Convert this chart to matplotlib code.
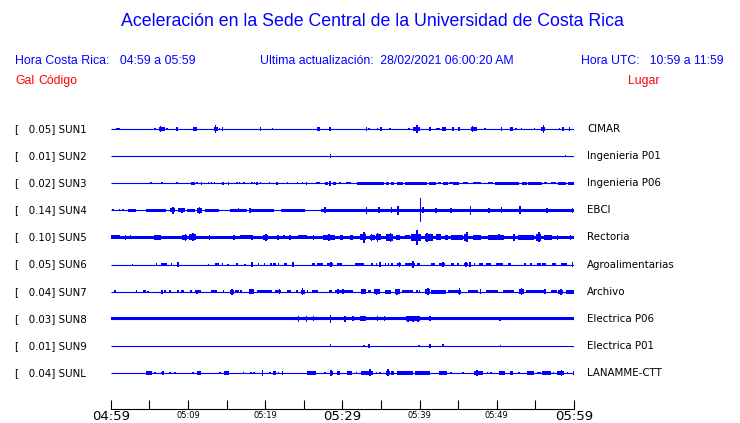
import matplotlib
matplotlib.use('Agg')
import matplotlib.pyplot as plt

# station codes, peak acceleration (Gal) and place names
codes = ['SUN1', 'SUN2', 'SUN3', 'SUN4', 'SUN5', 'SUN6', 'SUN7', 'SUN8', 'SUN9', 'SUNL']
peaks = [0.05, 0.01, 0.02, 0.14, 0.10, 0.05, 0.04, 0.03, 0.01, 0.04]
places = ['CIMAR', 'Ingenieria P01', 'Ingenieria P06', 'EBCI', 'Rectoria',
          'Agroalimentarias', 'Archivo', 'Electrica P06', 'Electrica P01', 'LANAMME-CTT']

# time axis: minutes after 04:59 (local) -> tick labels
tick_minutes = [0, 10, 20, 30, 40, 50, 60]
tick_labels = ['04:59', '05:09', '05:19', '05:29', '05:39', '05:49', '05:59']

# signal bursts: (start minute, end minute, half amplitude)
sun1 = [(0.65, 0.95, 3), (1.08, 1.08, 3), (5.72, 5.72, 3), (6.24, 6.97, 4), (6.45, 6.45, 9),
        (7.31, 7.31, 2), (8.47, 8.77, 4), (10.75, 10.75, 4), (11.01, 11.01, 4), (13.33, 13.85, 5),
        (13.55, 13.55, 12), (14.11, 14.11, 3), (14.49, 14.49, 4), (19.40, 19.40, 4), (20.95, 20.95, 2),
        (26.71, 27.05, 4), (26.80, 26.80, 6), (28.39, 28.39, 6), (33.12, 33.12, 4), (33.42, 33.42, 3),
        (34.54, 34.54, 3), (35.01, 35.01, 4), (36.17, 36.17, 2), (38.62, 38.62, 2), (39.14, 40.00, 5),
        (39.70, 39.70, 10), (41.33, 41.33, 4), (42.28, 42.28, 3), (42.49, 42.49, 3), (43.05, 43.05, 4),
        (43.27, 43.27, 4), (44.30, 44.30, 4), (45.08, 45.08, 4), (46.67, 47.40, 5), (46.88, 46.88, 8),
        (48.47, 48.47, 3), (50.62, 50.62, 4), (51.74, 52.09, 4), (51.91, 51.91, 6), (52.47, 52.47, 3),
        (53.20, 53.20, 2), (54.88, 54.88, 2), (55.78, 56.30, 5), (56.04, 56.04, 12), (58.11, 58.11, 3),
        (58.54, 58.54, 4), (59.44, 59.44, 4)]
sun2 = [(28.47, 28.47, 4), (58.88, 58.88, 3)]
sun3 = [(5.25, 5.25, 3), (6.45, 6.80, 3), (8.60, 8.60, 2), (10.45, 10.88, 4), (11.18, 11.18, 3),
        (11.74, 11.74, 4), (12.69, 12.69, 3), (13.03, 13.03, 3), (13.46, 13.46, 3), (14.41, 14.67, 4),
        (15.14, 15.35, 4), (16.34, 16.34, 3), (16.69, 16.69, 3), (17.25, 17.25, 3), (18.32, 18.32, 3),
        (18.62, 18.62, 3), (18.92, 18.92, 4), (19.40, 19.40, 3), (20.56, 20.56, 3), (21.38, 21.63, 4),
        (22.88, 22.88, 3), (24.17, 24.17, 3), (24.82, 24.82, 3), (25.38, 25.38, 4), (26.54, 27.10, 3),
        (27.74, 28.09, 4), (28.43, 28.43, 7), (28.73, 29.16, 4), (29.68, 29.68, 3), (30.45, 31.18, 3),
        (31.91, 32.39, 4), (32.47, 35.40, 4), (35.70, 36.00, 4), (36.26, 36.65, 4), (37.12, 37.85, 4),
        (38.06, 40.90, 4), (41.20, 42.15, 4), (42.37, 42.80, 3), (43.01, 43.66, 4), (43.87, 44.30, 3),
        (44.39, 45.16, 4), (45.59, 46.32, 3), (46.88, 47.96, 3), (48.82, 49.46, 3), (49.76, 52.90, 4),
        (53.25, 53.89, 4), (54.06, 55.91, 4), (56.13, 56.56, 3), (56.99, 57.63, 3), (57.94, 58.92, 4),
        (59.23, 60.00, 4)]
sun4 = [(0.22, 0.43, 2), (1.16, 1.16, 2), (1.63, 1.63, 2), (2.28, 3.23, 3), (4.52, 7.10, 3),
        (7.66, 8.39, 5), (8.73, 9.59, 5), (9.89, 10.97, 3), (11.18, 11.83, 6), (12.17, 14.06, 3),
        (15.48, 17.63, 3), (17.85, 21.20, 4), (22.06, 25.16, 4), (27.23, 60.00, 4),
        (8.09, 8.09, 10), (9.25, 9.25, 7), (11.48, 11.48, 10), (16.56, 16.56, 5), (18.06, 18.06, 6),
        (27.74, 27.74, 8), (33.12, 33.12, 10), (34.75, 34.75, 8), (36.34, 36.34, 8), (37.20, 37.20, 12),
        (40.13, 40.13, 35), (40.43, 40.43, 8), (42.15, 42.15, 6), (44.09, 44.09, 6), (46.62, 46.62, 12),
        (49.03, 49.03, 6), (50.62, 50.62, 8), (52.99, 52.99, 11), (56.47, 56.47, 6), (59.78, 59.78, 6)]
sun5 = [(0.00, 1.20, 5), (1.20, 60.00, 4.5), (1.94, 1.94, 6), (2.58, 2.58, 5), (5.59, 6.45, 6),
        (9.25, 9.89, 7), (9.68, 9.68, 9), (10.19, 11.05, 8), (10.62, 10.62, 11), (12.77, 12.77, 6),
        (15.78, 16.13, 6), (16.77, 18.49, 5), (18.28, 18.28, 7), (19.78, 20.43, 7), (20.09, 20.09, 9),
        (21.63, 21.63, 6), (22.45, 22.45, 5), (23.23, 23.23, 6), (24.30, 25.38, 5), (26.24, 26.24, 7),
        (27.53, 29.03, 7), (28.26, 28.26, 10), (29.68, 30.11, 7), (30.97, 31.40, 6), (32.26, 33.12, 8),
        (32.82, 32.82, 15), (33.55, 34.19, 7), (33.76, 33.76, 9), (34.41, 35.05, 8), (34.54, 34.54, 12),
        (35.70, 36.56, 9), (36.26, 36.26, 12), (36.99, 37.42, 6), (38.06, 38.71, 5), (38.92, 40.22, 10),
        (39.66, 39.66, 22), (40.65, 41.72, 9), (40.99, 40.99, 12), (42.15, 42.80, 8), (43.23, 43.66, 6),
        (44.09, 45.59, 6), (45.81, 46.32, 10), (46.11, 46.11, 14), (46.88, 47.96, 6), (48.82, 50.97, 6),
        (50.32, 50.32, 8), (52.26, 52.26, 9), (52.69, 54.84, 6), (55.05, 55.70, 9), (55.48, 55.48, 14),
        (56.13, 57.20, 6), (57.85, 57.85, 6), (59.57, 59.57, 6)]
sun6 = [(2.80, 2.80, 2), (5.81, 6.02, 3), (6.45, 7.31, 4), (7.01, 7.01, 5), (7.87, 7.87, 4),
        (8.73, 8.73, 7), (12.69, 12.69, 2), (13.55, 13.98, 3), (14.49, 14.49, 3), (15.18, 15.18, 2),
        (16.34, 16.34, 3), (17.42, 17.42, 2), (18.28, 18.28, 7), (19.14, 19.14, 3), (19.91, 19.91, 3),
        (20.73, 20.73, 3), (21.08, 21.38, 4), (21.72, 21.72, 3), (22.45, 22.88, 4), (23.44, 23.78, 6),
        (23.66, 23.66, 8), (26.11, 26.45, 3), (26.67, 27.53, 4), (27.96, 28.82, 4), (28.52, 28.52, 6),
        (29.33, 29.89, 4), (31.61, 32.82, 4), (33.76, 34.02, 4), (34.41, 34.41, 3), (34.84, 34.84, 6),
        (35.57, 35.57, 3), (36.00, 36.00, 4), (36.43, 36.43, 3), (37.12, 37.63, 4), (37.42, 37.42, 6),
        (38.06, 39.35, 4), (39.14, 39.14, 10), (39.70, 40.00, 4), (41.42, 41.94, 4), (42.49, 43.23, 4),
        (43.01, 43.01, 6), (44.09, 44.52, 4), (44.82, 45.16, 4), (45.81, 46.24, 4), (46.02, 46.02, 6),
        (46.54, 46.54, 8), (47.10, 47.10, 3), (47.74, 48.17, 3), (48.60, 49.25, 4), (49.89, 50.75, 4),
        (51.40, 51.83, 4), (53.63, 53.63, 3), (54.41, 54.41, 3), (55.27, 55.70, 4), (55.91, 56.34, 4),
        (57.12, 57.63, 4), (58.28, 59.05, 4), (59.78, 59.78, 6)]
sun7 = [(0.56, 0.56, 4), (3.35, 3.35, 3), (4.17, 4.52, 4), (4.82, 4.82, 2), (6.67, 6.67, 5),
        (7.01, 7.01, 3), (7.66, 7.66, 3), (8.73, 8.73, 3), (9.16, 9.51, 4), (10.24, 10.54, 4),
        (10.88, 11.74, 4), (11.18, 11.18, 5), (13.03, 13.76, 4), (14.62, 14.62, 4), (15.48, 15.91, 5),
        (15.70, 15.70, 8), (16.13, 16.65, 4), (16.90, 16.90, 3), (17.85, 18.62, 6), (18.92, 20.86, 4),
        (21.29, 22.06, 4), (21.85, 21.85, 7), (22.80, 23.31, 4), (24.09, 24.09, 3), (24.65, 25.16, 5),
        (24.86, 24.86, 10), (25.38, 25.59, 3), (26.02, 26.88, 4), (28.26, 28.69, 4), (29.03, 31.40, 4),
        (29.46, 29.46, 6), (30.11, 30.11, 6), (32.39, 33.12, 6), (33.33, 33.76, 4), (34.11, 34.84, 7),
        (34.41, 34.41, 8), (35.48, 36.26, 5), (36.77, 37.42, 6), (37.08, 37.08, 8), (37.76, 39.14, 4),
        (39.66, 39.66, 3), (40.00, 40.00, 3), (40.73, 41.29, 6), (41.08, 41.08, 9), (41.42, 43.44, 5),
        (43.66, 44.95, 4), (45.03, 45.38, 5), (45.16, 45.16, 9), (46.24, 47.53, 4), (47.87, 47.87, 6),
        (48.60, 50.11, 4), (50.75, 52.17, 4), (52.90, 53.46, 6), (53.20, 53.20, 10), (53.76, 56.13, 4),
        (56.22, 56.22, 6), (56.99, 57.85, 4), (57.94, 58.62, 5), (58.28, 58.28, 8), (58.92, 60.00, 5)]
sun8 = [(0.00, 60.00, 4.5), (24.30, 24.30, 8), (25.38, 25.38, 8), (26.24, 26.24, 6), (28.47, 28.47, 11),
        (30.32, 30.32, 8), (31.40, 31.40, 7), (32.26, 33.12, 7), (34.54, 34.54, 6), (35.48, 35.48, 6),
        (38.28, 40.00, 6), (38.49, 38.49, 8), (39.14, 39.14, 8), (39.79, 39.79, 8), (41.33, 41.33, 6),
        (50.45, 50.45, 5)]
sun9 = [(28.47, 28.47, 4), (32.82, 32.82, 3), (33.46, 33.46, 5), (39.91, 39.91, 3), (41.33, 41.33, 5),
        (43.01, 43.01, 4), (50.49, 50.49, 3)]
sunl = [(4.52, 5.38, 4), (5.72, 5.72, 2), (6.58, 6.58, 3), (6.80, 6.80, 4), (7.66, 7.66, 3),
        (8.30, 8.30, 3), (10.62, 10.62, 3), (11.18, 11.70, 4), (14.19, 14.19, 2), (14.62, 15.35, 4),
        (17.20, 17.20, 3), (18.19, 18.19, 3), (18.58, 18.58, 3), (19.66, 19.66, 8), (20.65, 20.65, 3),
        (20.99, 21.42, 4), (21.72, 21.72, 3), (22.24, 22.24, 4), (25.38, 26.54, 4), (27.74, 27.74, 3),
        (28.39, 28.73, 6), (28.52, 28.52, 8), (29.33, 29.76, 4), (30.54, 31.27, 4), (31.83, 31.83, 3),
        (32.47, 33.98, 5), (33.55, 33.55, 10), (34.41, 34.41, 3), (34.84, 34.84, 3), (35.70, 36.13, 6),
        (35.91, 35.91, 10), (36.34, 36.69, 4), (37.12, 39.14, 4), (39.35, 41.29, 4), (42.49, 43.57, 4),
        (44.09, 44.09, 3), (45.59, 45.59, 3), (47.10, 48.17, 4), (47.40, 47.40, 7), (48.82, 48.82, 3),
        (49.25, 49.25, 3), (50.32, 51.10, 4), (51.74, 52.09, 4), (52.90, 52.90, 3), (53.89, 54.84, 4),
        (55.27, 55.70, 3), (55.91, 56.99, 4), (56.34, 56.34, 6), (57.33, 57.33, 3), (57.85, 58.71, 5),
        (58.37, 58.37, 8), (59.14, 59.14, 3), (59.91, 59.91, 5)]

traces = [sun1, sun2, sun3, sun4, sun5, sun6, sun7, sun8, sun9, sunl]

BLUE = '#0000ff'
RED = '#ff0000'
W, H = 740, 423


def fx(px):
    return px / W


def fy(py):
    return 1 - py / H


def plot():
    """Draw the ten acceleration traces"""
    fig = plt.figure(figsize=(7.4, 4.23), dpi=100)
    fig.patch.set_facecolor('white')
    plt.rcParams['font.family'] = ['DejaVu Sans']

    # header
    hdr = dict(family='Liberation Sans', va='center')
    fig.text(fx(372), fy(21), 'Aceleración en la Sede Central de la Universidad de Costa Rica',
             color=BLUE, fontsize=12.8, ha='center', **hdr)
    fig.text(fx(15), fy(61), 'Hora Costa Rica:   04:59 a 05:59', color=BLUE, fontsize=8.9,
             ha='left', **hdr)
    fig.text(fx(260), fy(61), 'Ultima actualización:  28/02/2021 06:00:20 AM', color=BLUE,
             fontsize=8.8, ha='left', **hdr)
    fig.text(fx(724), fy(61), 'Hora UTC:   10:59 a 11:59', color=BLUE, fontsize=8.8,
             ha='right', **hdr)
    fig.text(fx(15), fy(81), 'Gal', color=RED, fontsize=8.8, **hdr)
    fig.text(fx(38), fy(81), 'Código', color=RED, fontsize=8.8, **hdr)
    fig.text(fx(628), fy(81), 'Lugar', color=RED, fontsize=8.8, **hdr)

    # axes: trace i at y=i, 27.1 px apart, first trace at pixel row 129
    x0, x1 = 110.7, 574.0
    top, bottom = 115, 409
    step = 27.1
    ax = fig.add_axes([fx(x0), fy(bottom), (x1 - x0) / W, (bottom - top) / H])
    ax.set_xlim(0, 60)
    ax.set_ylim((bottom - 129) / step, (top - 129) / step)
    scale = 1 / (3 * step)
    px_min = 60 / (x1 - x0)

    for i, events in enumerate(traces):
        ax.hlines(i, 0, 60, color=BLUE, lw=0.8)
        for t0, t1, amp in events:
            width = max(t1 - t0, 1.6 * px_min)
            half = (amp + 0.8) * scale
            ax.bar((t0 + t1) / 2, 2 * half, width=width, bottom=i - half,
                   color=BLUE, linewidth=0, antialiased=False)
        ax.text(-95.4 * px_min, i, '[   %.2f] %s' % (peaks[i], codes[i]),
                fontsize=7.4, ha='left', va='center', clip_on=False)
        ax.text((587 - x0) * px_min, i, places[i],
                fontsize=7.4, ha='left', va='center', clip_on=False)

    for side in ['left', 'right', 'top']:
        ax.spines[side].set_visible(False)
    ax.spines['bottom'].set_linewidth(0.8)
    ax.set_yticks([])
    ax.set_xticks(range(0, 61, 5))
    ax.set_xticklabels([])
    ax.tick_params(axis='x', which='both', direction='in', length=6.5, width=0.8)

    # time labels: large on the half hours, small otherwise, baseline just under the axis
    for m, lab in zip(tick_minutes, tick_labels):
        big = m % 30 == 0
        ax.annotate(lab, xy=(m, 0), xycoords=('data', 'axes fraction'),
                    xytext=(0, -8.0 if big else -6.6), textcoords='offset points',
                    ha='center', va='baseline', fontsize=9.5 if big else 6)

    plt.savefig('out.png', dpi=100)


plot()
